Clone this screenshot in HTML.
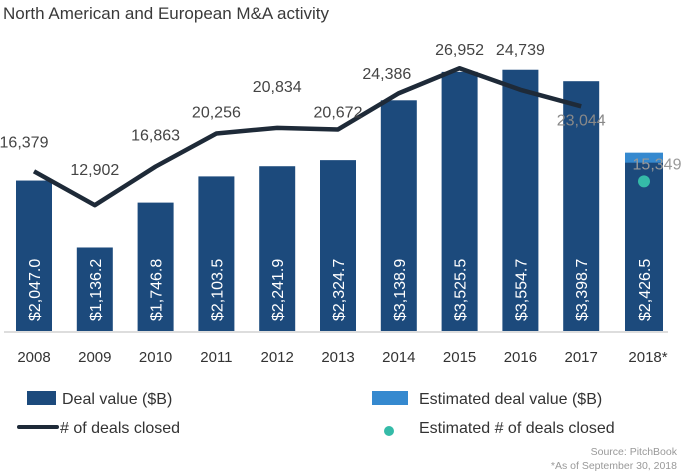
<!DOCTYPE html>
<html><head><meta charset="utf-8"><style>
body{margin:0;background:#fff;}
svg{display:block;font-family:"Liberation Sans",sans-serif;}
</style></head><body>
<svg id="chart" width="685" height="474">
<text x="3" y="19" font-size="17" fill="#3a3a3a">North American and European M&amp;A activity</text>
<g id="bars"></g><g id="line"></g><g id="labels"></g>
<line x1="4" y1="332" x2="668" y2="332" stroke="#bbb" stroke-width="1"/>
<g>
<rect x="27" y="391" width="29" height="14" fill="#1c4a7c"/>
<text x="62" y="404" font-size="16" fill="#333">Deal value ($B)</text>
<rect x="372" y="391" width="36" height="14" fill="#3589cf"/>
<text x="419" y="404" font-size="16" fill="#333">Estimated deal value ($B)</text>
<line x1="19" y1="427" x2="57" y2="427" stroke="#1e2a38" stroke-width="4" stroke-linecap="round"/>
<text x="60" y="433" font-size="16" fill="#333"># of deals closed</text>
<circle cx="389" cy="431" r="5" fill="#35bba8"/>
<text x="419" y="433" font-size="16" fill="#333">Estimated # of deals closed</text>
</g>
<text x="677" y="455" font-size="10.5" fill="#999" text-anchor="end">Source: PitchBook</text>
<text x="677" y="469" font-size="10.5" fill="#999" text-anchor="end">*As of September 30, 2018</text>
</svg>
<script>
const years=["2008","2009","2010","2011","2012","2013","2014","2015","2016","2017","2018*"];
const dealValues=[2047.0,1136.2,1746.8,2103.5,2241.9,2324.7,3138.9,3525.5,3554.7,3398.7,2290];
const dealValueLabels=["$2,047.0","$1,136.2","$1,746.8","$2,103.5","$2,241.9","$2,324.7","$3,138.9","$3,525.5","$3,554.7","$3,398.7","$2,426.5"];
const dealCounts=[16379,12902,16863,20256,20834,20672,24386,26952,24739,23044];
const dealCountLabels=["16,379","12,902","16,863","20,256","20,834","20,672","24,386","26,952","24,739","23,044"];
const estimatedDealCount=15349;
const estimatedDealCountLabel="15,349";
const estimatedDealValue2018=2426.5;

const NS="http://www.w3.org/2000/svg";
const base=331;
const xC=i=>34+i*60.8;
const yV=v=>base-v*0.0735;
const yD=v=>base-v*0.00975;
function mk(t,a,p){const e=document.createElementNS(NS,t);for(const k in a)e.setAttribute(k,a[k]);p.appendChild(e);return e;}
const gb=document.getElementById('bars'),gl=document.getElementById('line'),gt=document.getElementById('labels');
dealValues.forEach((v,i)=>{
  const last=i===years.length-1;
  const w=last?38:36;
  if(last){
    const top=yV(estimatedDealValue2018);
    const c=mk('rect',{x:xC(i)-w/2+2,y:top,width:w,height:base-top,fill:'#3589cf'},gb);
    
    
  }
  const r=mk('rect',{x:xC(i)-w/2+(last?2:0),y:yV(v),width:w,height:base-yV(v),fill:'#1c4a7c'},gb);
  
  
  const t=mk('text',{x:0,y:0,'font-size':16,fill:'#fff','text-anchor':'start',transform:`translate(${xC(i)+(last?8:6)},${base-10}) rotate(-90)`},gt);
  t.textContent=dealValueLabels[i];
  
  
  const yl=mk('text',{x:xC(i)+(last?6:0),y:362,'font-size':15,fill:'#333','text-anchor':'middle'},gt);
  yl.textContent=years[i];
  
  
});
const pts=dealCounts.map((v,i)=>xC(i)+','+yD(v)).join(' ');
const pl=mk('polyline',{points:pts,fill:'none',stroke:'#1e2a38','stroke-width':4.5,'stroke-linejoin':'round'},gl);


const offs=[[-10,-24],[0,-30],[0,-26],[0,-16],[0,-36],[0,-12],[-12,-14],[0,-13],[0,-35],[0,19]];
dealCounts.forEach((v,i)=>{
  const t=mk('text',{x:xC(i)+offs[i][0],y:yD(v)+offs[i][1],'font-size':16,fill:i===9?'#888':'#444','text-anchor':'middle'},gt);
  t.textContent=dealCountLabels[i];
  
  
});
const dot=mk('circle',{cx:xC(10)+2,cy:yD(estimatedDealCount),r:6,fill:'#35bba8'},gl);


const et=mk('text',{x:xC(10)+15,y:yD(estimatedDealCount)-12,'font-size':16,fill:'#999','text-anchor':'middle'},gt);
et.textContent=estimatedDealCountLabel;


</script>
</body></html>
